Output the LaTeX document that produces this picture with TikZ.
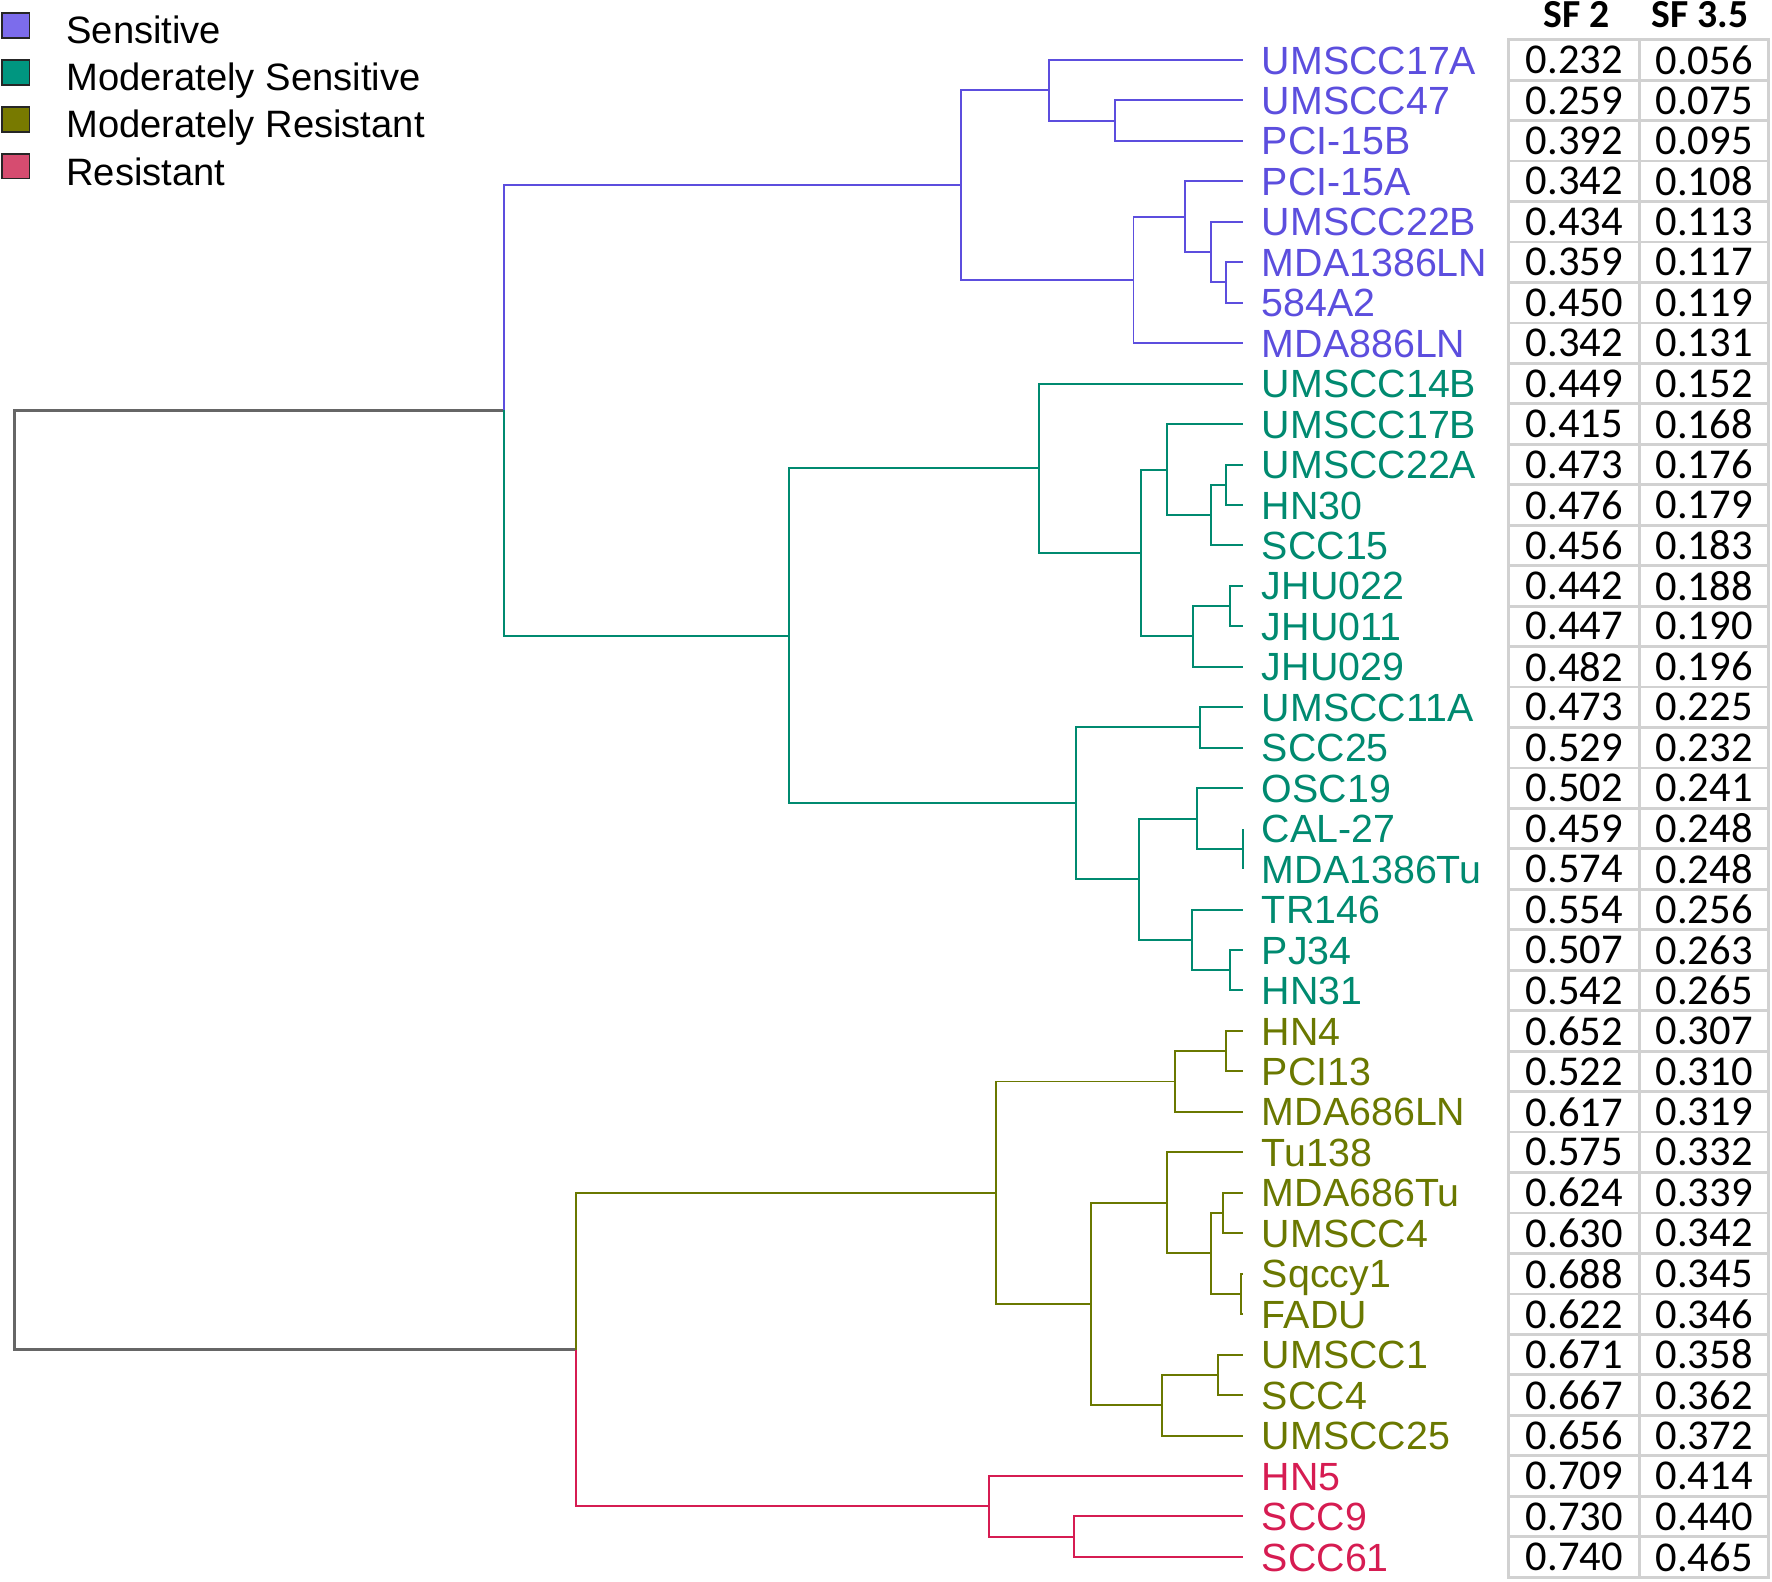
\documentclass[tikz,border=0pt]{standalone}
\usepackage{fontspec}
\setmainfont{Liberation Sans}
\newfontfamily\calibri{Carlito}
\definecolor{colS}{RGB}{92,78,222}
\definecolor{colMS}{RGB}{0,138,112}
\definecolor{colMR}{RGB}{106,120,0}
\definecolor{colR}{RGB}{214,28,82}
\definecolor{fillS}{RGB}{124,108,236}
\definecolor{fillMS}{RGB}{0,150,128}
\definecolor{fillMR}{RGB}{120,122,0}
\definecolor{fillR}{RGB}{214,76,112}

\begin{document}
\begin{tikzpicture}[x=0.01cm, y=-0.3578cm,
  branch/.style={line width=0.5pt},
  rootline/.style={line width=0.7pt, black!60},
  leaf/.style={anchor=base west, inner sep=0pt, yshift=-3.55pt, font=\fontsize{9.9}{12}\selectfont},
  val/.style={inner sep=0pt, font=\calibri\fontsize{10.7}{12}\selectfont},
  head/.style={inner sep=0pt, font=\calibri\bfseries\fontsize{10}{12}\selectfont},
  cell/.style={draw=black!18, line width=0.7pt},
  key/.style={draw=black!85, line width=0.4pt, minimum width=0.24cm, minimum height=0.22cm, inner sep=0pt},
  keytext/.style={anchor=base west, inner sep=0pt, yshift=-3.45pt, font=\fontsize{9.6}{12}\selectfont}]
\useasboundingbox (0,-1.4813) rectangle (1568,37.619);

\foreach \txt/\c [count=\k from 0] in {Sensitive/S, Moderately Sensitive/MS, Moderately Resistant/MR, Resistant/R}{
  \node[key, fill=fill\c] (k\c) at (14,-0.85+1.159*\k) {};
  \node[keytext] (t\c) at (58,-0.74+1.165*\k) {\txt};
}

\node[head] (h1) at (1395,-1.12) {SF 2};
\node[head] (h2) at (1504,-1.12) {SF 3.5};

\foreach \name/\c/\a/\b [count=\i from 0] in {
  UMSCC17A/S/0.232/0.056, UMSCC47/S/0.259/0.075, PCI-15B/S/0.392/0.095, PCI-15A/S/0.342/0.108,
  UMSCC22B/S/0.434/0.113, MDA1386LN/S/0.359/0.117, 584A2/S/0.450/0.119, MDA886LN/S/0.342/0.131,
  UMSCC14B/MS/0.449/0.152, UMSCC17B/MS/0.415/0.168, UMSCC22A/MS/0.473/0.176, HN30/MS/0.476/0.179,
  SCC15/MS/0.456/0.183, JHU022/MS/0.442/0.188, JHU011/MS/0.447/0.190, JHU029/MS/0.482/0.196,
  UMSCC11A/MS/0.473/0.225, SCC25/MS/0.529/0.232, OSC19/MS/0.502/0.241, CAL-27/MS/0.459/0.248,
  MDA1386Tu/MS/0.574/0.248, TR146/MS/0.554/0.256, PJ34/MS/0.507/0.263, HN31/MS/0.542/0.265,
  HN4/MR/0.652/0.307, PCI13/MR/0.522/0.310, MDA686LN/MR/0.617/0.319, Tu138/MR/0.575/0.332,
  MDA686Tu/MR/0.624/0.339, UMSCC4/MR/0.630/0.342, Sqccy1/MR/0.688/0.345, FADU/MR/0.622/0.346,
  UMSCC1/MR/0.671/0.358, SCC4/MR/0.667/0.362, UMSCC25/MR/0.656/0.372,
  HN5/R/0.709/0.414, SCC9/R/0.730/0.440, SCC61/R/0.740/0.465}{
  \coordinate (l\i) at (1100,\i);
  \node[leaf, text=col\c] (n\i) at (1116,\i) {\name};
  \draw[cell] (1335,\i-0.5) rectangle (1451,\i+0.5);
  \draw[cell] (1451,\i-0.5) rectangle (1565,\i+0.5);
  \node[val] (a\i) at (1393,\i) {\a};
  \node[val] (b\i) at (1508,\i) {\b};
}

\coordinate (root) at (13,20.27);
\coordinate (top) at (446,8.664);
\coordinate (sens) at (850,3.094);
\coordinate (s17a) at (928,0.75);
\coordinate (s47) at (987,1.5);
\coordinate (s886) at (1003,5.4375);
\coordinate (s15a) at (1049,3.875);
\coordinate (s22b) at (1072,4.75);
\coordinate (s1386) at (1085,5.5);
\coordinate (msens) at (698,14.234);
\coordinate (ms14b) at (919,10.094);
\coordinate (ms17bj) at (1010,12.1875);
\coordinate (ms17b) at (1033,10.125);
\coordinate (ms15) at (1072,11.25);
\coordinate (ms22a) at (1085,10.5);
\coordinate (msjhu29) at (1056,14.25);
\coordinate (msjhu) at (1088,13.5);
\coordinate (mslow) at (952,18.375);
\coordinate (ms11a) at (1062,16.5);
\coordinate (msmid) at (1008,20.25);
\coordinate (msosc) at (1059,18.75);
\coordinate (mscal) at (1100,19.5);
\coordinate (mstr) at (1055,21.75);
\coordinate (mspj) at (1088,22.5);
\coordinate (resroot) at (510,31.875);
\coordinate (mres) at (881,28);
\coordinate (mr686ln) at (1040,25.25);
\coordinate (mrhn4) at (1085,24.5);
\coordinate (mrlow) at (965,30.75);
\coordinate (mrtu) at (1033,28.25);
\coordinate (mrin) at (1072,29.5);
\coordinate (mr686tu) at (1082,28.5);
\coordinate (mrsq) at (1098,30.5);
\coordinate (mr25) at (1028,33.25);
\coordinate (mr1) at (1078,32.5);
\coordinate (res) at (875,35.75);
\coordinate (res9) at (950,36.5);

\draw[rootline] (root) |- (top) (root) |- (resroot);

\draw[branch, colS] (top) |- (sens)
  (sens) |- (s17a) (sens) |- (s886)
  (s17a) |- (l0) (s17a) |- (s47) (s47) |- (l1) (s47) |- (l2)
  (s886) |- (s15a) (s886) |- (l7)
  (s15a) |- (l3) (s15a) |- (s22b)
  (s22b) |- (l4) (s22b) |- (s1386)
  (s1386) |- (l5) (s1386) |- (l6);

\draw[branch, colMS] (top) |- (msens)
  (msens) |- (ms14b) (msens) |- (mslow)
  (ms14b) |- (l8) (ms14b) |- (ms17bj)
  (ms17bj) |- (ms17b) (ms17bj) |- (msjhu29)
  (ms17b) |- (l9) (ms17b) |- (ms15)
  (ms15) |- (ms22a) (ms15) |- (l12)
  (ms22a) |- (l10) (ms22a) |- (l11)
  (msjhu29) |- (msjhu) (msjhu29) |- (l15)
  (msjhu) |- (l13) (msjhu) |- (l14)
  (mslow) |- (ms11a) (mslow) |- (msmid)
  (ms11a) |- (l16) (ms11a) |- (l17)
  (msmid) |- (msosc) (msmid) |- (mstr)
  (msosc) |- (l18) (msosc) |- (mscal)
  (mscal) |- (l19) (mscal) |- (l20)
  (mstr) |- (l21) (mstr) |- (mspj)
  (mspj) |- (l22) (mspj) |- (l23);

\draw[branch, colMR] (resroot) |- (mres)
  (mres) |- (mr686ln) (mres) |- (mrlow)
  (mr686ln) |- (mrhn4) (mr686ln) |- (l26)
  (mrhn4) |- (l24) (mrhn4) |- (l25)
  (mrlow) |- (mrtu) (mrlow) |- (mr25)
  (mrtu) |- (l27) (mrtu) |- (mrin)
  (mrin) |- (mr686tu) (mrin) |- (mrsq)
  (mr686tu) |- (l28) (mr686tu) |- (l29)
  (mrsq) |- (l30) (mrsq) |- (l31)
  (mr25) |- (mr1) (mr25) |- (l34)
  (mr1) |- (l32) (mr1) |- (l33);

\draw[branch, colR] (resroot) |- (res)
  (res) |- (l35) (res) |- (res9)
  (res9) |- (l36) (res9) |- (l37);
\end{tikzpicture}
\end{document}
